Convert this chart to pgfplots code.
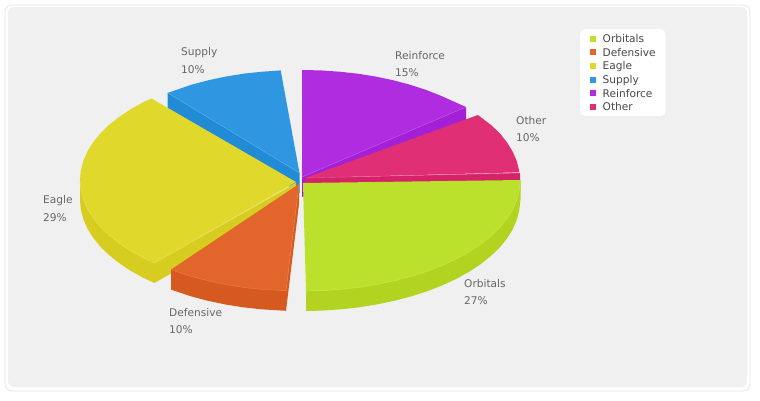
\documentclass[border=0pt]{standalone}
\usepackage{fontspec}
\setmainfont{DejaVu Sans}
\usepackage{pgfplots}
\pgfplotsset{compat=1.18}

\definecolor{orbTop}{HTML}{BCE12C}\definecolor{orbSide}{HTML}{B2D420}\definecolor{orbEdge}{HTML}{C9E653}
\definecolor{defTop}{HTML}{E2662C}\definecolor{defSide}{HTML}{D65A20}\definecolor{defEdge}{HTML}{E87C48}
\definecolor{eagTop}{HTML}{E1D82C}\definecolor{eagSide}{HTML}{D7CD20}\definecolor{eagEdge}{HTML}{E8E052}
\definecolor{supTop}{HTML}{2F97E1}\definecolor{supSide}{HTML}{228BD6}\definecolor{supEdge}{HTML}{56ABE8}
\definecolor{reiTop}{HTML}{B02CE1}\definecolor{reiSide}{HTML}{A420D6}\definecolor{reiEdge}{HTML}{C052E8}
\definecolor{othTop}{HTML}{E12F75}\definecolor{othSide}{HTML}{D62268}\definecolor{othEdge}{HTML}{E85690}
\definecolor{panel}{HTML}{F0F0F0}\definecolor{lab}{HTML}{666666}

\begin{document}
\begin{tikzpicture}
\begin{axis}[
  scale only axis, width=760pt, height=400pt,
  xmin=0, xmax=760, ymin=0, ymax=400, y dir=reverse,
  hide axis, clip=false,
  legend cell align=left,
  legend image code/.code={\fill[sharp corners,#1] (0pt,-3pt) rectangle (6pt,3pt); \path (12.5pt,0pt);},
  legend style={at={(axis cs:580,29)}, anchor=north west, draw=none, fill=white,
    rounded corners=5pt, font=\fontsize{10.6}{11}\selectfont, text=black!72,
    inner xsep=10pt, inner ysep=4pt, row sep=2.6pt,
    nodes={inner sep=0pt, text height=9.5pt, text depth=1.5pt}},
]
% panel behind everything
\fill[white] (axis cs:0,0) rectangle (axis cs:760,400);
\draw[black!10, fill=white, rounded corners=7pt, line width=.8pt] (axis cs:5,5) rectangle (axis cs:750,391);
\fill[panel, rounded corners=6pt] (axis cs:8,7) rectangle (axis cs:747,387);
\fill[black!7, rounded corners=5pt] (axis cs:581.5,30.5) rectangle (axis cs:665.5,117.5);

\addlegendimage{fill=orbTop, draw=none}\addlegendentry{Orbitals}
\addlegendimage{fill=defTop, draw=none}\addlegendentry{Defensive}
\addlegendimage{fill=eagTop, draw=none}\addlegendentry{Eagle}
\addlegendimage{fill=supTop, draw=none}\addlegendentry{Supply}
\addlegendimage{fill=reiTop, draw=none}\addlegendentry{Reinforce}
\addlegendimage{fill=othTop, draw=none}\addlegendentry{Other}

% Supply
\addplot[forget plot, fill=supSide, draw=none] coordinates {(167.7,92.9)(299.5,173)(299.5,193)(167.7,112.9)};
\addplot[forget plot, fill=supTop, draw=none] coordinates {
(299.5,173)(167.7,92.9)(191.5,84.7)(208,80.3)(225.6,76.6)(244,73.6)(262,71.7)(280.7,70.4)};
\addplot[forget plot, supEdge, line width=.4pt] coordinates {(299.5,173)(167.7,92.9)};
% Reinforce
\addplot[forget plot, fill=reiSide, draw=none] coordinates {(302,177)(466,107)(466,127)(302,197)};
\addplot[forget plot, fill=reiTop, draw=none] coordinates {
(302,177)(302,70)(320.8,70.4)(339.5,71.7)(357.9,73.7)(375.9,76.6)(393.3,80.3)(410,84.7)(426,89.9)(440.8,95.7)(453.7,101.5)(466,107)};
\addplot[forget plot, reiEdge, line width=.4pt] coordinates {(302,177)(466,107)};
% Other
\addplot[forget plot, fill=othSide, draw=none] coordinates {(305,178)(520,173)(520,193)(305,198)};
\addplot[forget plot, fill=othTop, draw=none] coordinates {
(305,178)(478,115)(491,125)(500,133.5)(507,142.4)(512.6,151.5)(516.7,160.9)(519.5,172.3)};
\addplot[forget plot, othEdge, line width=.4pt] coordinates {(305,178)(520,173)};
% Eagle
\addplot[forget plot, fill=eagSide, draw=none] coordinates {
(80,180)(80,200)(80.8,209.6)(83.3,219.1)(87.4,228.5)(93,237.6)(100.2,246.5)(108.9,255)(119.1,263.1)(130.5,270.7)(143.3,277.8)(154.3,283)(296,203)(296,183)(154.3,263)};
\addplot[forget plot, fill=eagTop, draw=none] coordinates {
(296,182)(151.5,98.5)(143.3,102.2)(130.5,109.3)(119.1,116.9)(108.9,125)(100.2,133.5)(93,142.4)(87.4,151.5)(83.3,160.9)(80.8,170.4)(80,180)
(80.8,189.6)(83.3,199.1)(87.4,208.5)(93,217.6)(100.2,226.5)(108.9,235)(119.1,243.1)(130.5,250.7)(143.3,257.8)(154.3,263)};
\addplot[forget plot, eagEdge, line width=.5pt] coordinates {
(80,180)(80.8,189.6)(83.3,199.1)(87.4,208.5)(93,217.6)(100.2,226.5)(108.9,235)(119.1,243.1)(130.5,250.7)(143.3,257.8)(154.3,263)(296,183)};
% Defensive
\addplot[forget plot, fill=defSide, draw=none] coordinates {
(171,269.6)(171,289.6)(191,296.3)(207.5,300.7)(225.1,304.4)(243,307.3)(261.5,309.3)(286,310.8)(299,204)(299,184)(286,290.8)};
\addplot[forget plot, fill=defTop, draw=none] coordinates {
(299,184)(171,269.6)(191,276.3)(207.5,280.7)(225.1,284.4)(243,287.3)(261.5,289.3)(286,290.8)};
\addplot[forget plot, defEdge, line width=.5pt] coordinates {
(171,269.6)(191,276.3)(207.5,280.7)(225.1,284.4)(243,287.3)(261.5,289.3)(286,290.8)(299,184)};
% Orbitals
\addplot[forget plot, fill=orbSide, draw=none] coordinates {
(520.5,180)(520.5,200)(519.2,210.6)(516.7,220.1)(512.6,229.5)(506.9,238.6)(499.7,247.5)(490.9,256)(480.8,264.1)(469.2,271.7)(456.4,278.8)(442.5,285.3)(427.5,291.1)(411.5,296.3)(394.7,300.7)(377.2,304.4)(359.2,307.3)(340.7,309.3)(321.9,310.6)(306,311)(306,291)};
\addplot[forget plot, fill=orbTop, draw=none] coordinates {
(303,183)(520.5,180)(519.2,190.6)(516.7,200.1)(512.6,209.5)(506.9,218.6)(499.7,227.5)(490.9,236)(480.8,244.1)(469.2,251.7)(456.4,258.8)(442.5,265.3)(427.5,271.1)(411.5,276.3)(394.7,280.7)(377.2,284.4)(359.2,287.3)(340.7,289.3)(321.9,290.6)(306,291)};
\addplot[forget plot, orbEdge, line width=.5pt] coordinates {
(520.5,180)(519.2,190.6)(516.7,200.1)(512.6,209.5)(506.9,218.6)(499.7,227.5)(490.9,236)(480.8,244.1)(469.2,251.7)(456.4,258.8)(442.5,265.3)(427.5,271.1)(411.5,276.3)(394.7,280.7)(377.2,284.4)(359.2,287.3)(340.7,289.3)(321.9,290.6)(306,291)};

% slice labels
\begin{scope}[every node/.style={anchor=west, inner sep=0pt, text=lab, font=\fontsize{10.6}{11}\selectfont}]
\node at (axis cs:181,53) {Supply};    \node at (axis cs:181,70) {10\%};
\node at (axis cs:395,56) {Reinforce}; \node at (axis cs:395,73) {15\%};
\node at (axis cs:516,121) {Other};    \node at (axis cs:516,138) {10\%};
\node at (axis cs:464,284) {Orbitals}; \node at (axis cs:464,301) {27\%};
\node at (axis cs:169,313) {Defensive};\node at (axis cs:169,330) {10\%};
\node at (axis cs:43,201) {Eagle};     \node at (axis cs:43,218) {29\%};
\end{scope}
\end{axis}
\end{tikzpicture}
\end{document}
